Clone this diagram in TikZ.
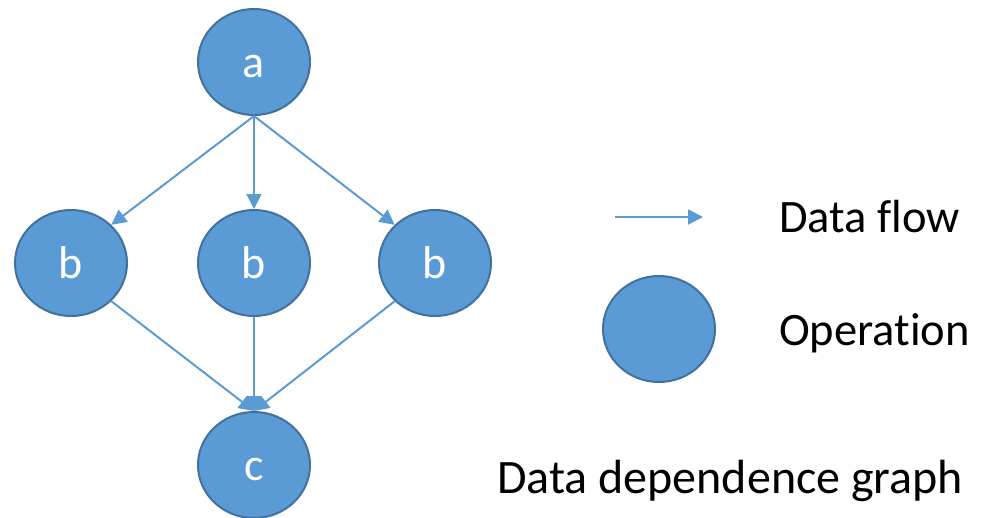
\documentclass[tikz,border=0pt]{standalone}
\usepackage{fontspec}
\setmainfont{Carlito}[Ligatures=NoCommon]
\usetikzlibrary{shapes.geometric,arrows.meta}
\definecolor{opfill}{HTML}{5B9BD5}
\definecolor{opline}{HTML}{41719C}
\definecolor{flowline}{HTML}{5B9BD5}
\begin{document}
\begin{tikzpicture}[x=1pt,y=-1pt,
  opnode/.style={ellipse,draw=opline,line width=2pt,fill=opfill,
    minimum width=112pt,minimum height=106pt,inner sep=0pt,
    text=white,font=\fontsize{46}{46}\selectfont,
    text height=31pt,text depth=0pt},
  flow/.style={draw=flowline,line width=2pt,
    -{Triangle[length=15pt,width=15pt]}},
  legendtext/.style={anchor=base west,font=\fontsize{46.5}{46.5}\selectfont,inner sep=0pt}]
  \useasboundingbox (0,0) rectangle (988,517);

  % operations
  \node[opnode] (a)  at (254,62)  {a};
  \node[opnode] (b1) at (71,263)  {b};
  \node[opnode] (b2) at (254,263) {b};
  \node[opnode] (b3) at (435,263) {b};
  \node[opnode] (c)  at (254,465) {c};

  % data flow edges
  \draw[flow] (a.south) -- (b1.north east);
  \draw[flow] (a.south) -- (b2.north);
  \draw[flow] (a.south) -- (b3.north west);
  \draw[flow] (b1.south east) -- (c.north);
  \draw[flow] (b2.south) -- (c.north);
  \draw[flow] (b3.south west) -- (c.north);

  % legend
  \coordinate (fs) at (615,217);
  \coordinate (fe) at (703,217);
  \draw[flow] (fs) -- (fe);
  \node[legendtext] (lflow) at (779,232) {Data flow};
  \node[opnode] (lop) at (659,329) {};
  \node[legendtext] (lopt) at (779,345) {Operation};
  \node[legendtext,font=\fontsize{48}{48}\selectfont] (title) at (497,493) {Data dependence graph};
\end{tikzpicture}
\end{document}
